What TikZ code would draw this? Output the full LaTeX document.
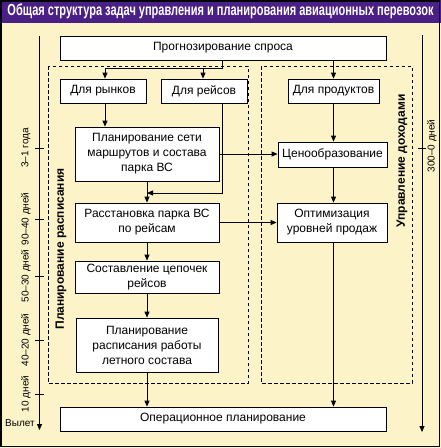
\documentclass[tikz,border=0pt]{standalone}
\usepackage{fontspec}
\setmainfont{Liberation Sans}
\usetikzlibrary{arrows.meta}
\definecolor{bgcream}{HTML}{FDF3C9}
\definecolor{titlepurple}{HTML}{4A1F86}
\tikzset{
  box/.style={draw=black, line width=0.8pt, fill=white, align=center, inner sep=1pt,
    font=\fontsize{12}{15}\selectfont},
  arr/.style={line width=0.8pt, -{Triangle[length=6pt,width=5pt]}},
  conn/.style={line width=0.8pt},
  region/.style={draw=black, line width=0.9pt, dash pattern=on 3.5pt off 2.5pt},
  tick/.style={line width=0.8pt},
  tlabel/.style={rotate=90, font=\fontsize{10}{12}\selectfont, inner sep=0pt},
  rlabel/.style={rotate=90, font=\fontsize{12}{14}\selectfont\bfseries, inner sep=0pt}
}
\begin{document}
\begin{tikzpicture}[x=1pt,y=-1pt]
\useasboundingbox (0,0) rectangle (441,448);
% background
\fill[bgcream] (0,0) rectangle (441,448);
\fill[titlepurple] (0,0) rectangle (441,22.5);
\draw[line width=1.5pt] (0.75,0.75) rectangle (439.5,446.5);
\node[text=white, inner sep=0pt] (title) at (220.5,11.5)
  {\resizebox{426pt}{\height}{\fontsize{16}{16}\selectfont\bfseries Общая структура задач управления и планирования авиационных перевозок}};

% dashed regions
\draw[region] (48,66) rectangle (248,383);
\draw[region] (261,66) rectangle (412,383);
\node[rlabel] (lblL) at (61,249) {Планирование расписания};
\node[rlabel] (lblR) at (402,161) {Управление доходами};

% timelines
\coordinate (tlA) at (39.5,36);
\coordinate (tlB) at (39.5,430);
\draw[arr] (tlA) -- (tlB);
\foreach \yy/\txt in {148/3--1 года, 219/90--40 дней, 276/50--30 дней, 340/40--20 дней, 394/10 дней}{
  \draw[tick] (35,\yy) -- (44,\yy);
  \node[tlabel] at (26,\yy) {\txt};
}
\node[font=\fontsize{10}{12}\selectfont, inner sep=0pt] (vylet) at (20,423) {Вылет};
\coordinate (trA) at (422,35);
\coordinate (trB) at (422,432);
\draw[arr] (trA) -- (trB);
\draw[tick] (418,148) -- (426,148);
\node[tlabel] (t300) at (432,146) {300--0 дней};

% boxes
\node[box, minimum width=326pt, minimum height=24pt] (top) at (223,48) {Прогнозирование спроса};
\node[box, minimum width=86pt, minimum height=24pt] (rynkov) at (103,91) {Для рынков};
\node[box, minimum width=86pt, minimum height=24pt] (reisov) at (204,91) {Для рейсов};
\node[box, minimum width=91pt, minimum height=24pt] (produktov) at (333.5,91) {Для продуктов};
\node[box, minimum width=144pt, minimum height=54pt] (seti) at (147,154) {Планирование сети\\маршрутов и состава\\парка ВС};
\node[box, minimum width=144pt, minimum height=39pt] (rasst) at (147,222.5) {Расстановка парка ВС\\по рейсам};
\node[box, minimum width=144pt, minimum height=32pt] (cepoch) at (147,277) {Составление цепочек\\рейсов};
\node[box, minimum width=142pt, minimum height=54pt] (letn) at (147,345) {Планирование\\расписания работы\\летного состава};
\node[box, minimum width=326pt, minimum height=24pt] (oper) at (223,419) {Операционное планирование};
\node[box, minimum width=109pt, minimum height=25pt] (ceno) at (332.5,154.5) {Ценообразование};
\node[box, minimum width=110pt, minimum height=39pt] (optim) at (332,222.5) {Оптимизация\\уровней продаж};

% connectors
\coordinate (jR) at (222,68);
\coordinate (jL) at (105,68);
\coordinate (jM) at (203,68);
\draw[conn] (top.south -| jR) -- (jR) -- (jL);
\draw[arr] (jL) -- (jL |- rynkov.north);
\draw[arr] (jM) -- (jM |- reisov.north);
\draw[arr] (top.south -| produktov) -- (produktov.north);
\draw[arr] (rynkov.south -| jL) -- (jL |- seti.north);
\coordinate (k) at (222,193);
\draw[arr] (reisov.south -| k) -- (k) -- (k -| seti.south);
\draw[arr] (seti.south) -- (rasst.north);
\draw[arr] (rasst.south) -- (cepoch.north);
\draw[arr] (cepoch.south) -- (letn.north);
\draw[arr] (letn.south) -- (letn.south |- oper.north);
\draw[arr] (seti.east) -- (seti.east -| ceno.west);
\draw[arr] (rasst.east) -- (rasst.east -| optim.west);
\draw[arr] (produktov.south) -- (produktov.south |- ceno.north);
\draw[arr] (ceno.south -| produktov) -- (optim.north -| produktov);
\draw[arr] (optim.south -| produktov) -- (oper.north -| produktov);
\end{tikzpicture}
\end{document}
